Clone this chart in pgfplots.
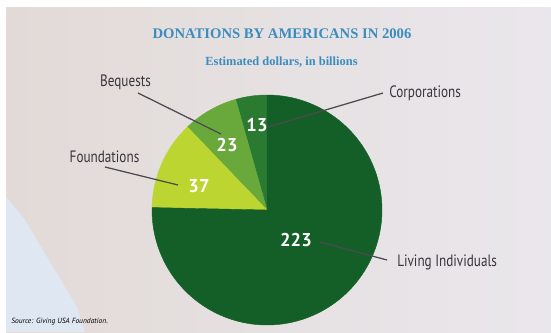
\documentclass[border=0pt]{standalone}
\usepackage{pgfplots}
\pgfplotsset{compat=1.18}
\usepackage{pgfplotstable}
\usepackage{fontspec}
\setmainfont{Liberation Serif}
\newfontfamily\labelfont[FakeStretch=0.8]{PT Sans}
\newfontfamily\numfont{PT Sans}
\newfontfamily\srcfont{PT Sans}
\definecolor{cLiving}{HTML}{145F27}
\definecolor{cCorp}{HTML}{2B7A32}
\definecolor{cBeq}{HTML}{69A83B}
\definecolor{cFound}{HTML}{BDD531}
\definecolor{titleblue}{HTML}{3B8DBF}
\definecolor{labeltext}{HTML}{36363C}
\definecolor{leader}{HTML}{4A4A50}
\definecolor{bgleft}{HTML}{E2DAD7}
\definecolor{bgright}{HTML}{EAE7EC}
\definecolor{bgblue}{HTML}{DFE8F2}

% Donations by Americans in 2006, billions of dollars
\pgfplotstableread{
label value
Corporations 13
Bequests 23
Foundations 37
Living 223
}\donations

\begin{document}
\begin{tikzpicture}
\pgfplotstablegetelem{0}{value}\of\donations \let\vA\pgfplotsretval
\pgfplotstablegetelem{1}{value}\of\donations \let\vB\pgfplotsretval
\pgfplotstablegetelem{2}{value}\of\donations \let\vC\pgfplotsretval
\pgfplotstablegetelem{3}{value}\of\donations \let\vD\pgfplotsretval
\pgfmathsetmacro\total{\vA+\vB+\vC+\vD}
\pgfmathsetmacro\aA{90}
\pgfmathsetmacro\aB{\aA+360*(\vA/\total)}
\pgfmathsetmacro\aC{\aB+360*(\vB/\total)}
\pgfmathsetmacro\aD{\aC+360*(\vC/\total)}
\pgfmathsetmacro\aE{\aD+360*(\vD/\total)}
\def\cx{267}\def\cy{210}\def\r{115}
\begin{axis}[
  scale only axis, width=5.51in, height=3.32in,
  xmin=0, xmax=551, ymin=0, ymax=332, y dir=reverse,
  hide axis, clip=false,
]
% background
\fill[white] (axis cs:0,0) rectangle (axis cs:551,332);
\shade[left color=bgleft, right color=bgright] (axis cs:6,8) rectangle (axis cs:551,332);
\fill[bgblue] (axis cs:6,197) -- (axis cs:25,220) -- (axis cs:50,262) -- (axis cs:77,307) -- (axis cs:85,332) -- (axis cs:6,332) -- cycle;

% pie slices
\addplot[draw=cCorp, fill=cCorp, line width=0.3pt, domain=\aA:\aB, samples=20, variable=\t]
  ({\cx+\r*cos(t)}, {\cy-\r*sin(t)}) -- (axis cs:\cx,\cy) -- cycle;
\addplot[draw=cBeq, fill=cBeq, line width=0.3pt, domain=\aB:\aC, samples=30, variable=\t]
  ({\cx+\r*cos(t)}, {\cy-\r*sin(t)}) -- (axis cs:\cx,\cy) -- cycle;
\addplot[draw=cFound, fill=cFound, line width=0.3pt, domain=\aC:\aD, samples=40, variable=\t]
  ({\cx+\r*cos(t)}, {\cy-\r*sin(t)}) -- (axis cs:\cx,\cy) -- cycle;
\addplot[draw=cLiving, fill=cLiving, line width=0.3pt, domain=\aD:\aE, samples=150, variable=\t]
  ({\cx+\r*cos(t)}, {\cy-\r*sin(t)}) -- (axis cs:\cx,\cy) -- cycle;

% leader lines
\draw[leader, line width=0.9pt] (axis cs:138,93) -- (axis cs:221,134);
\draw[leader, line width=0.9pt] (axis cs:268,127) -- (axis cs:383,93);
\draw[leader, line width=0.9pt] (axis cs:105,167) -- (axis cs:178,185);
\draw[leader, line width=0.9pt] (axis cs:320,242) -- (axis cs:387,260);

% titles
\node[font=\bfseries\fontsize{10.6}{12}\selectfont, text=titleblue] at (axis cs:282,34) {DONATIONS BY AMERICANS IN 2006};
\node[font=\bfseries\fontsize{9}{11}\selectfont, text=titleblue] at (axis cs:281.5,62) {Estimated dollars, in billions};

% category labels
\node[font=\labelfont\fontsize{11.9}{13}\selectfont, text=labeltext] at (axis cs:125.5,82) {Bequests};
\node[font=\labelfont\fontsize{11.9}{13}\selectfont, text=labeltext] at (axis cs:104.5,157) {Foundations};
\node[font=\labelfont\fontsize{11.9}{13}\selectfont, text=labeltext, anchor=west, inner sep=0pt] at (axis cs:389,93) {Corporations};
\node[font=\labelfont\fontsize{11.9}{13}\selectfont, text=labeltext, anchor=west, inner sep=0pt] at (axis cs:397,262) {Living Individuals};

% values
\node[font=\numfont\bfseries\fontsize{13.4}{14}\selectfont, text=white] at (axis cs:257,125) {13};
\node[font=\numfont\bfseries\fontsize{13.4}{14}\selectfont, text=white] at (axis cs:227,145.5) {23};
\node[font=\numfont\bfseries\fontsize{13.4}{14}\selectfont, text=white] at (axis cs:199,186.5) {37};
\node[font=\numfont\bfseries\fontsize{13.4}{14}\selectfont, text=white] at (axis cs:296,240.5) {223};

% source
\node[font=\srcfont\itshape\fontsize{5.4}{6}\selectfont, text=black, anchor=west, inner sep=0pt] at (axis cs:11,322) {Source: Giving USA Foundation.};
\end{axis}
\end{tikzpicture}
\end{document}
